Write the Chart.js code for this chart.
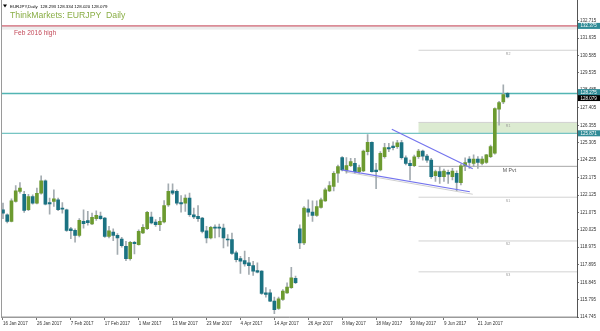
<!DOCTYPE html>
<html>
<head>
<meta charset="utf-8">
<script src="https://cdn.jsdelivr.net/npm/chart.js@4.4.1/dist/chart.umd.min.js"></script>
<style>
  html, body { margin: 0; padding: 0; background: #fff; }
</style>
</head>
<body>
<canvas id="chart" width="600" height="331"></canvas>
<script>
// EURJPY daily, 16 Jan 2017 - 30 Jun 2017 (bar index 0..119)
var dateLabels = ['16 Jan 2017', '26 Jan 2017', '7 Feb 2017', '17 Feb 2017', '1 Mar 2017', '13 Mar 2017',
  '23 Mar 2017', '4 Apr 2017', '14 Apr 2017', '26 Apr 2017', '8 May 2017', '18 May 2017', '30 May 2017',
  '9 Jun 2017', '21 Jun 2017'];

var opens = [121.24, 120.94, 120.54, 121.74, 122.35, 122.18, 121.24, 122.04, 121.64, 122.24,
  122.99, 121.68, 121.74, 121.84, 121.34, 121.24, 120.09, 119.99, 119.69, 120.54,
  120.58, 120.38, 120.70, 120.86, 120.74, 119.63, 119.89, 119.69, 119.47, 119.03,
  118.28, 119.27, 119.13, 119.83, 120.09, 120.80, 120.50, 120.34, 120.50, 121.54,
  122.39, 122.35, 121.68, 121.64, 121.94, 120.94, 120.84, 120.74, 119.97, 119.53,
  120.15, 120.17, 120.13, 119.47, 119.43, 118.63, 118.28, 118.16, 118.02, 117.86,
  117.56, 117.52, 116.21, 116.21, 115.71, 115.27, 115.81, 116.21, 116.52, 117.08,
  120.09, 119.23, 121.30, 121.10, 120.90, 121.38, 121.78, 122.38, 122.65, 123.45,
  124.40, 123.59, 123.91, 124.05, 123.55, 123.59, 124.76, 125.32, 123.65, 123.65,
  124.46, 125.00, 125.10, 125.06, 125.31, 124.39, 124.05, 123.91, 124.45, 124.79,
  124.49, 124.25, 123.30, 123.55, 123.24, 123.50, 123.24, 123.45, 122.88, 123.90,
  124.31, 124.05, 124.31, 124.05, 124.11, 124.46, 124.66, 127.33, 127.77, 128.29];
var highs = [121.64, 121.00, 121.90, 122.71, 122.89, 122.35, 122.18, 122.15, 122.55, 123.29,
  123.05, 121.94, 122.45, 121.94, 121.68, 121.28, 120.17, 120.09, 120.70, 121.24,
  121.14, 121.04, 121.18, 121.10, 120.78, 120.23, 120.09, 119.79, 119.57, 119.33,
  119.33, 119.33, 120.03, 120.34, 121.14, 121.10, 120.64, 120.78, 121.80, 122.81,
  122.81, 122.45, 122.10, 122.15, 122.25, 121.34, 121.50, 120.78, 120.23, 120.23,
  120.33, 120.37, 120.37, 119.73, 119.83, 118.73, 118.42, 118.73, 118.36, 118.12,
  118.02, 117.56, 116.52, 116.41, 115.95, 115.95, 116.41, 116.82, 117.76, 117.22,
  120.33, 121.44, 121.84, 121.78, 121.78, 121.94, 122.55, 122.95, 123.55, 123.95,
  124.46, 124.40, 124.36, 124.36, 123.95, 124.86, 125.80, 125.36, 124.05, 124.76,
  125.26, 125.26, 125.36, 125.45, 125.45, 124.50, 124.25, 124.55, 124.90, 124.85,
  124.60, 124.35, 123.65, 123.85, 123.70, 123.65, 123.75, 123.60, 124.00, 124.39,
  124.46, 124.56, 124.46, 124.46, 124.60, 125.16, 127.41, 127.81, 128.80, 128.33];
var lows = [120.70, 120.44, 120.50, 121.70, 122.25, 121.08, 121.18, 121.58, 121.60, 122.18,
  121.54, 120.98, 121.44, 121.18, 121.04, 119.93, 119.49, 119.27, 119.59, 120.13,
  120.30, 120.34, 120.60, 120.66, 119.57, 119.53, 119.37, 118.53, 118.97, 118.16,
  118.18, 118.57, 119.09, 119.79, 120.03, 120.38, 120.23, 119.97, 120.44, 121.44,
  122.15, 121.54, 121.10, 121.14, 120.84, 120.70, 120.54, 119.83, 119.23, 119.47,
  119.53, 119.59, 118.93, 119.03, 118.53, 118.08, 117.38, 117.82, 117.32, 117.26,
  117.42, 116.11, 115.95, 115.67, 114.95, 115.21, 115.75, 116.17, 116.48, 116.76,
  118.89, 119.13, 120.84, 120.54, 120.84, 121.34, 121.74, 122.34, 122.38, 122.89,
  123.59, 123.45, 123.85, 123.45, 123.45, 123.55, 124.56, 123.51, 122.51, 123.59,
  124.36, 124.76, 124.86, 124.96, 124.31, 123.95, 123.04, 123.85, 124.35, 124.25,
  124.10, 123.14, 122.95, 122.84, 122.95, 122.84, 123.04, 122.40, 122.75, 123.60,
  123.75, 123.85, 123.75, 123.95, 124.05, 124.39, 124.60, 126.36, 127.67, 128.02];
var closes = [121.04, 120.54, 121.78, 122.39, 122.55, 121.20, 122.04, 121.64, 122.24, 122.99,
  121.58, 121.60, 121.90, 121.24, 121.28, 119.99, 119.97, 119.69, 120.60, 120.40,
  120.46, 120.78, 120.90, 120.70, 119.63, 119.97, 119.69, 119.53, 119.07, 118.28,
  119.27, 119.19, 119.93, 120.17, 121.08, 120.44, 120.34, 120.54, 121.50, 122.35,
  122.25, 121.64, 121.60, 121.94, 120.94, 120.80, 120.70, 119.93, 119.53, 120.17,
  120.13, 120.13, 119.53, 119.41, 118.59, 118.22, 118.12, 117.96, 117.86, 117.52,
  117.46, 116.17, 116.11, 115.71, 115.19, 115.85, 116.31, 116.56, 117.12, 116.82,
  119.23, 121.34, 121.10, 120.90, 121.44, 121.84, 122.44, 122.71, 123.45, 123.85,
  123.65, 123.91, 124.16, 123.55, 123.79, 124.80, 125.32, 123.55, 123.55, 124.66,
  125.00, 124.92, 125.00, 125.30, 124.39, 124.05, 123.91, 124.45, 124.79, 124.49,
  124.25, 123.24, 123.55, 123.24, 123.59, 123.40, 123.59, 122.90, 123.90, 124.10,
  124.11, 124.31, 124.11, 124.31, 124.56, 125.06, 127.37, 127.73, 128.21, 128.08];

var yTicks = [132.715, 131.635, 130.585, 129.535, 128.485, 127.405, 126.355, 125.305, 124.255,
  123.175, 122.125, 121.075, 120.025, 118.975, 117.895, 116.845, 115.795, 114.745];

var febHigh = 132.375;
var febBandLow = 132.15;
var resistance = 128.275;
var support = 125.871;
var zoneTop = 126.53;
var zoneBottom = 125.90;
var lastQuote = [128.293, 128.334, 128.020, 128.079];

var pivotNames = ['R2', 'R1', 'M Pvt', 'S1', 'S2', 'S3'];
var pivotLevels = [130.90, 126.53, 123.87, 122.00, 119.35, 117.48];
var pivotStart = 98;

var upperTrendX = [91.7, 110.8], upperTrendY = [126.12, 123.72];
var lowerTrendX = [80, 110.1], lowerTrendY = [123.66, 122.33];
var shadowTrendX = [81, 110.8], shadowTrendY = [123.52, 122.18];

var X_MIN = -0.47, X_MAX = 135.38;
var FONT = '"Liberation Sans", Arial, sans-serif';

var bullColor = '#6c9a30', bearColor = '#1b7282', wickColor = '#a3abb0';

var idx = opens.map(function (v, i) { return i; });

function hline(value, color, width, from) {
  return {
    type: 'line',
    data: [{ x: from, y: value }, { x: X_MAX, y: value }],
    borderColor: color,
    borderWidth: width,
    pointRadius: 0,
    order: 5
  };
}

function segment(xs, ys, color, width, order) {
  return {
    type: 'line',
    data: [{ x: xs[0], y: ys[0] }, { x: xs[1], y: ys[1] }],
    borderColor: color, borderWidth: width, pointRadius: 0, order: order
  };
}

var datasets = [
  {
    label: 'wick',
    data: idx.map(function (i) { return { x: i, y: [lows[i], highs[i]] }; }),
    backgroundColor: wickColor,
    barThickness: 1,
    grouped: false,
    order: 3
  },
  {
    label: 'body',
    data: idx.map(function (i) { return { x: i, y: [opens[i], closes[i]] }; }),
    backgroundColor: idx.map(function (i) { return closes[i] >= opens[i] ? bullColor : bearColor; }),
    barThickness: 3,
    minBarLength: 1,
    grouped: false,
    order: 2
  },
  hline(febHigh, '#c53e50', 1, X_MIN),
  hline(resistance, '#52b5b3', 1.5, X_MIN),
  hline(support, '#52b5b3', 1, X_MIN)
];

pivotLevels.forEach(function (lvl, k) {
  datasets.push(hline(lvl, pivotNames[k] === 'M Pvt' ? '#a8a8a8' : '#d2d2d2', 1, pivotStart));
});

datasets.push(segment(shadowTrendX, shadowTrendY, '#d0d0d0', 1, 4));
datasets.push(segment(upperTrendX, upperTrendY, '#7474ee', 1.2, 1));
datasets.push(segment(lowerTrendX, lowerTrendY, '#7474ee', 1.2, 1));

var overlay = {
  id: 'overlay',
  beforeDatasetsDraw: function (chart) {
    var ctx = chart.ctx, x = chart.scales.x, y = chart.scales.y, a = chart.chartArea;
    ctx.save();
    var t = y.getPixelForValue(febHigh), b = y.getPixelForValue(febBandLow);
    ctx.fillStyle = '#ececec';
    ctx.fillRect(a.left, t, a.right - a.left, b - t);
    var zx = x.getPixelForValue(pivotStart);
    t = y.getPixelForValue(zoneTop); b = y.getPixelForValue(zoneBottom);
    ctx.fillStyle = '#dcebd1';
    ctx.fillRect(zx, t, a.right - zx, b - t);
    ctx.restore();
  },
  afterDraw: function (chart) {
    var ctx = chart.ctx, x = chart.scales.x, y = chart.scales.y, a = chart.chartArea;
    ctx.save();
    // window border
    ctx.strokeStyle = '#9a9a9a';
    ctx.lineWidth = 1;
    ctx.beginPath();
    ctx.moveTo(1.5, 0); ctx.lineTo(1.5, a.bottom);
    ctx.lineTo(a.right, a.bottom);
    ctx.stroke();
    ctx.strokeStyle = '#555';
    ctx.beginPath();
    ctx.moveTo(a.right + 0.5, 0); ctx.lineTo(a.right + 0.5, a.bottom);
    ctx.stroke();

    // header
    ctx.fillStyle = '#000';
    ctx.beginPath();
    ctx.moveTo(3, 4.5); ctx.lineTo(7, 4.5); ctx.lineTo(5, 7.5); ctx.closePath();
    ctx.fill();
    ctx.textAlign = 'left';
    ctx.textBaseline = 'alphabetic';
    ctx.font = '4.4px ' + FONT;
    ctx.fillText('EURJPY,Daily  ' + lastQuote.map(function (v) { return v.toFixed(3); }).join(' '), 10, 7.8);
    ctx.fillStyle = '#8aae46';
    ctx.font = '8.7px ' + FONT;
    ctx.fillText('ThinkMarkets: EURJPY  Daily', 10, 18.3);
    ctx.fillStyle = '#c44a5a';
    ctx.font = '6.6px ' + FONT;
    ctx.fillText('Feb 2016 high', 14, 35.4);

    // pivot labels
    var lx = x.getPixelForValue(118.6);
    pivotLevels.forEach(function (lvl, k) {
      var py = y.getPixelForValue(lvl);
      if (pivotNames[k] === 'M Pvt') {
        ctx.fillStyle = '#555';
        ctx.font = '5.2px ' + FONT;
        ctx.fillText(pivotNames[k], lx - 3, py + 6);
      } else {
        ctx.fillStyle = '#9a9a9a';
        ctx.font = '3.6px ' + FONT;
        ctx.fillText(pivotNames[k], lx, py + 4.5);
      }
    });

    // price boxes on the axis
    function box(value, text, bg, dy) {
      var py = y.getPixelForValue(value) + (dy || 0);
      ctx.fillStyle = bg;
      ctx.fillRect(a.right + 1, py - 3, 600 - a.right - 1, 6);
      ctx.fillStyle = '#fff';
      ctx.font = '4.5px ' + FONT;
      ctx.textBaseline = 'middle';
      ctx.fillText(text, a.right + 3.5, py + 0.3);
    }
    box(febHigh, febHigh.toFixed(3), '#2f8b96');
    box(support, support.toFixed(3), '#2f8b96');
    box(lastQuote[3], lastQuote[3].toFixed(3), '#000', 1.2);
    box(resistance, resistance.toFixed(3), '#2f8b96', -1.5);
    ctx.restore();
  }
};

new Chart(document.getElementById('chart').getContext('2d'), {
  type: 'bar',
  data: { datasets: datasets },
  plugins: [overlay],
  options: {
    responsive: false,
    animation: false,
    layout: { padding: { left: 1, top: 2, right: 0, bottom: 0 } },
    plugins: { legend: { display: false }, tooltip: { enabled: false } },
    scales: {
      x: {
        type: 'linear',
        min: X_MIN,
        max: X_MAX,
        offset: false,
        afterBuildTicks: function (scale) {
          scale.ticks = dateLabels.map(function (d, k) { return { value: k * 8 }; });
        },
        afterFit: function (scale) { scale.height = 14; },
        ticks: {
          autoSkip: false,
          maxRotation: 0,
          align: 'start',
          padding: 1,
          color: '#333',
          font: { family: FONT, size: 4.5 },
          callback: function (v) { return dateLabels[Math.round(v / 8)]; }
        },
        grid: { drawOnChartArea: false, offset: false, tickLength: 3, color: '#777' },
        border: { display: true, color: '#9a9a9a' }
      },
      y: {
        position: 'right',
        min: 114.745,
        max: 133.72,
        afterBuildTicks: function (scale) {
          scale.ticks = yTicks.map(function (v) { return { value: v }; });
        },
        afterFit: function (scale) { scale.width = 23; },
        ticks: {
          autoSkip: false,
          padding: 1,
          color: '#333',
          font: { family: FONT, size: 4.5 },
          callback: function (v) { return v.toFixed(3); }
        },
        grid: { drawOnChartArea: false, tickLength: 2, color: '#777' },
        border: { display: true, color: '#555' }
      }
    }
  }
});
</script>
</body>
</html>
